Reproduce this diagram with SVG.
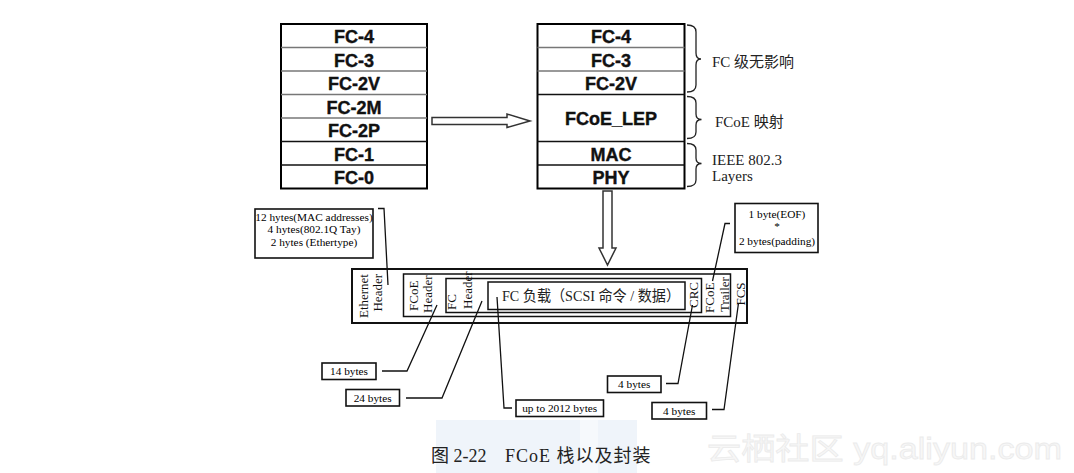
<svg xmlns="http://www.w3.org/2000/svg" width="1074" height="473" viewBox="0 0 1074 473">
<style>
.stk{font-family:"Liberation Sans",Arial,sans-serif;font-weight:bold;font-size:18px;text-anchor:middle;fill:#111;stroke:#111;stroke-width:0.4}
.ser{font-family:"Liberation Serif","Noto Sans CJK SC",serif;fill:#222}
.note{font-family:"Liberation Serif",serif;font-size:11.3px;text-anchor:middle;fill:#000}
.rot{font-family:"Liberation Serif",serif;font-size:13px;fill:#111}
.cell{fill:#fff;stroke:#000;stroke-width:2}
.div{stroke:#777;stroke-width:1.5}
.divd{stroke:#111;stroke-width:1.6}
.brace{fill:none;stroke:#222;stroke-width:1.3}
.lead{fill:none;stroke:#111;stroke-width:1.3}
.cb{fill:#fff;stroke:#111;stroke-width:1.6}
.fr{fill:none;stroke:#111}
</style>
<rect width="1074" height="473" fill="#fff"/>
<!-- faint background band -->
<rect x="436" y="420" width="201" height="53" fill="#eff4fa"/>
<rect x="580" y="420" width="18" height="53" fill="#f6f9fc"/>
<text x="707" y="459" font-family="'Liberation Sans','Noto Sans CJK SC',sans-serif" font-size="30" fill="#f7f7f7" stroke="#ebebeb" stroke-width="0.8" textLength="355" lengthAdjust="spacingAndGlyphs">云栖社区 yq.aliyun.com</text>

<!-- Left FC stack -->
<g id="fc-stack">
<rect class="cell" x="281" y="24" width="146" height="164.5"/>
<line class="div" x1="281" y1="47.5" x2="427" y2="47.5"/>
<line class="div" x1="281" y1="71" x2="427" y2="71"/>
<line class="div" x1="281" y1="94.5" x2="427" y2="94.5"/>
<line class="div" x1="281" y1="118" x2="427" y2="118"/>
<line class="divd" x1="281" y1="141.5" x2="427" y2="141.5"/>
<line class="divd" x1="281" y1="165" x2="427" y2="165"/>
<text class="stk" x="354" y="43">FC-4</text>
<text class="stk" x="354" y="66.5">FC-3</text>
<text class="stk" x="354" y="90">FC-2V</text>
<text class="stk" x="354" y="113.5">FC-2M</text>
<text class="stk" x="354" y="137">FC-2P</text>
<text class="stk" x="354" y="160.5">FC-1</text>
<text class="stk" x="354" y="184">FC-0</text>
</g>

<!-- Right FCoE stack -->
<g id="fcoe-stack">
<rect class="cell" x="537.5" y="24" width="147" height="164.5"/>
<line class="div" x1="537.5" y1="47.5" x2="684.5" y2="47.5"/>
<line class="div" x1="537.5" y1="71" x2="684.5" y2="71"/>
<line class="divd" x1="537.5" y1="94.5" x2="684.5" y2="94.5" stroke-width="2"/>
<line class="divd" x1="537.5" y1="141.5" x2="684.5" y2="141.5" stroke-width="2"/>
<line class="divd" x1="537.5" y1="165" x2="684.5" y2="165"/>
<text class="stk" x="611" y="43">FC-4</text>
<text class="stk" x="611" y="66.5">FC-3</text>
<text class="stk" x="611" y="90">FC-2V</text>
<text class="stk" x="611" y="125" font-size="20">FCoE_LEP</text>
<text class="stk" x="611" y="160.5">MAC</text>
<text class="stk" x="611" y="184">PHY</text>
</g>

<!-- Braces and labels -->
<g id="brace-fc">
<path class="brace" d="M687,25 Q696,25 696,32 L696,53 Q696,59 701,59 Q696,59 696,65 L696,85 Q696,92 687,92"/>
<text class="ser" x="712" y="67" font-size="15">FC 级无影响</text>
</g>
<g id="brace-fcoe">
<path class="brace" d="M687,96.5 Q696,96.5 696,103 L696,114 Q696,119.5 701.5,119.5 Q696,119.5 696,125 L696,132 Q696,138.5 687,138.5"/>
<text class="ser" x="715" y="127" font-size="15">FCoE 映射</text>
</g>
<g id="brace-ieee">
<path class="brace" d="M687,143.5 Q696,143.5 696,150 L696,158 Q696,163.5 701.5,163.5 Q696,163.5 696,169 L696,180 Q696,186.5 687,186.5"/>
<text class="ser" x="712" y="165" font-size="15">IEEE 802.3</text>
<text class="ser" x="712" y="181" font-size="15">Layers</text>
</g>

<!-- Ethernet frame -->
<g id="frame">
<rect class="fr" x="352" y="269" width="395" height="54" stroke-width="2"/>
<rect class="fr" x="403.5" y="274" width="327" height="42.5" stroke-width="1.5"/>
<rect class="fr" x="446" y="278.5" width="255.5" height="34" stroke-width="1.5"/>
<rect class="fr" x="488" y="282" width="197" height="27.5" stroke-width="1.5"/>
<text class="rot" font-size="13.5" text-anchor="end" transform="translate(368,274) rotate(-90)">Ethernet</text>
<text class="rot" font-size="13.5" text-anchor="end" transform="translate(382,274) rotate(-90)">Header</text>
<text class="rot" transform="translate(418,311) rotate(-90)">FCoE</text>
<text class="rot" transform="translate(431.5,313) rotate(-90)">Header</text>
<text class="rot" transform="translate(455.5,310) rotate(-90)">FC</text>
<text class="rot" transform="translate(472,309) rotate(-90)">Header</text>
<text class="ser" x="502" y="301" font-size="15" textLength="178" lengthAdjust="spacingAndGlyphs">FC 负载（SCSI 命令 / 数据）</text>
<text class="rot" font-size="12" text-anchor="middle" transform="translate(698,295) rotate(-90)">CRC</text>
<text class="rot" font-size="12" transform="translate(714,313) rotate(-90)">FCoE</text>
<text class="rot" font-size="12" transform="translate(729,312) rotate(-90)">Trailer</text>
<text class="rot" font-size="12" text-anchor="middle" transform="translate(745,294) rotate(-90)">FCS</text>
</g>

<!-- Callout boxes -->
<g id="note-eth">
<rect class="cb" x="255" y="209" width="118" height="49"/>
<text class="note" x="314" y="221">12 hytes(MAC addresses)</text>
<text class="note" x="314" y="233">4 hytes(802.1Q Tay)</text>
<text class="note" x="314" y="245.5">2 hytes (Ethertype)</text>
</g>
<g id="note-trailer">
<rect class="cb" x="735" y="203.5" width="83" height="49"/>
<text class="note" x="777" y="218">1 byte(EOF)</text>
<text class="note" x="777" y="230">*</text>
<text class="note" x="777" y="245">2 bytes(padding)</text>
</g>
<g id="note-14">
<rect class="cb" x="322" y="363" width="54" height="16.5"/>
<text class="note" x="349" y="375">14 bytes</text>
</g>
<g id="note-24">
<rect class="cb" x="346" y="389.5" width="53.5" height="16.5"/>
<text class="note" x="372.7" y="401.5">24 bytes</text>
</g>
<g id="note-2012">
<rect class="cb" x="516" y="400" width="87.5" height="16.5"/>
<text class="note" x="559.7" y="412">up to 2012 bytes</text>
</g>
<g id="note-crc">
<rect class="cb" x="607.5" y="376" width="53.5" height="16.5"/>
<text class="note" x="634.2" y="388">4 bytes</text>
</g>
<g id="note-fcs">
<rect class="cb" x="652" y="402.5" width="54.5" height="16.5"/>
<text class="note" x="679.2" y="414.5">4 bytes</text>
</g>

<!-- Connectors -->
<g id="connectors">
<polygon points="432,117.5 507,117.5 507,114 530,121 507,127.5 507,124.5 432,124.5" fill="#fff" stroke="#333" stroke-width="1.5"/>
<polygon points="603,191 612,191 612,248 616,248 607.5,265 599,248 603,248" fill="#fff" stroke="#333" stroke-width="1.5"/>
<polyline class="lead" points="378,208.5 384,208.5 388,285"/>
<polyline class="lead" points="730,223.5 725,223.5 712.5,281"/>
<polyline class="lead" points="382,371 407,371 437,305"/>
<polyline class="lead" points="406,398 442,398 482,301"/>
<polyline class="lead" points="512,408 504,408 497,297"/>
<polyline class="lead" points="666,383.5 678,383.5 692.5,305"/>
<polyline class="lead" points="712,409.5 724,409.5 738.5,303"/>
</g>

<!-- Caption -->
<text class="ser" x="431" y="461.5" font-size="18" fill="#333">图 2-22</text>
<text class="ser" x="505" y="461.5" font-size="18" fill="#333" letter-spacing="1">FCoE 栈以及封装</text>
</svg>
